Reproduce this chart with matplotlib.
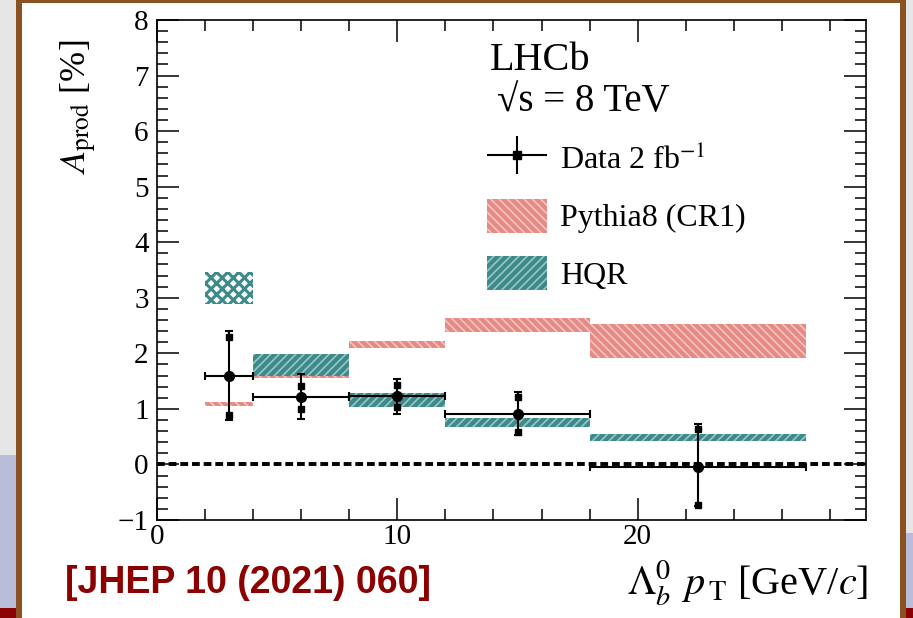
import numpy as np
import matplotlib
matplotlib.use('Agg')
import matplotlib.pyplot as plt
from matplotlib.patches import Rectangle
from matplotlib.ticker import MultipleLocator
from matplotlib.legend_handler import HandlerErrorbar

plt.rcParams['font.family'] = ['Liberation Serif', 'DejaVu Serif']
plt.rcParams['mathtext.fontset'] = 'stix'
plt.rcParams['hatch.linewidth'] = 1.2

# bins in Lambda_b pT [GeV/c]
bin_lo = [2, 4, 8, 12, 18]
bin_hi = [4, 8, 12, 18, 27]

# data points (A_prod in %)
x_pts = [3, 6, 10, 15, 22.5]
a_prod = [1.59, 1.21, 1.23, 0.90, -0.05]
err_tot_up = [0.81, 0.41, 0.31, 0.41, 0.77]
err_tot_dn = [0.79, 0.40, 0.32, 0.37, 0.70]
err_stat = [0.70, 0.21, 0.20, 0.31, 0.68]

# model bands (low / high edge)
pythia_lo = [1.06, 1.56, 2.10, 2.39, 1.91]
pythia_hi = [1.12, 1.62, 2.23, 2.63, 2.52]
hqr_lo = [2.88, 1.60, 1.04, 0.68, 0.43]
hqr_hi = [3.47, 1.98, 1.29, 0.83, 0.54]

pythia_col = '#e58a84'
pythia_hatch = '#f4c4c0'
hqr_col = '#3d8a8a'
hqr_hatch = '#9cc6c6'

W, H = 913, 618
fig = plt.figure(figsize=(W / 100, H / 100), dpi=100)
fig.patch.set_facecolor('white')

# slide frame around the plot
bg = fig.add_axes([0, 0, 1, 1], zorder=-5)
bg.set_xlim(0, W)
bg.set_ylim(H, 0)
bg.axis('off')
frame = [
    (0, 0, 16, 455, '#e6e6e6'),
    (0, 455, 16, 153, '#b9bdd9'),
    (0, 608, 16, 10, '#8b0000'),
    (906, 0, 7, 533, '#e6e6e6'),
    (906, 533, 7, 75, '#b9bdd9'),
    (906, 608, 7, 10, '#8b0000'),
    (16, 0, 6, H, '#8a5221'),
    (900, 0, 6, H, '#8a5221'),
    (16, 0, 890, 3, '#8a5221'),
]
for fx, fy, fw, fh, fc in frame:
    bg.add_patch(Rectangle((fx, fy), fw, fh, facecolor=fc, edgecolor='none'))

# main axes
l, r, t, b = 157, 866, 20, 520
ax = fig.add_axes([l / W, 1 - b / H, (r - l) / W, (b - t) / H])
ax.set_xlim(0, 29.5)
ax.set_ylim(-1, 8)

ax.axhline(0, color='black', lw=2.8, ls=(0, (2.0, 1.0)), zorder=2)

for i in range(len(bin_lo)):
    w = bin_hi[i] - bin_lo[i]
    ax.add_patch(Rectangle((bin_lo[i], pythia_lo[i]), w, pythia_hi[i] - pythia_lo[i],
                           facecolor=pythia_col, edgecolor=pythia_hatch, hatch='\\\\\\\\', lw=0, zorder=1))
    if i == 0:
        cross = Rectangle((bin_lo[i], hqr_lo[i]), w, hqr_hi[i] - hqr_lo[i],
                          facecolor='white', edgecolor=hqr_col, hatch='xxx', lw=0, zorder=1)
        if hasattr(cross, 'set_hatch_linewidth'):
            cross.set_hatch_linewidth(2.2)
        ax.add_patch(cross)
    else:
        ax.add_patch(Rectangle((bin_lo[i], hqr_lo[i]), w, hqr_hi[i] - hqr_lo[i],
                               facecolor=hqr_col, edgecolor=hqr_hatch, hatch='////', lw=0, zorder=1))

x_arr = np.array(x_pts)
xerr_lo = x_arr - np.array(bin_lo)
xerr_hi = np.array(bin_hi) - x_arr
ax.errorbar(x_pts, a_prod, yerr=[err_tot_dn, err_tot_up], xerr=[xerr_lo, xerr_hi],
            fmt='o', color='black', ms=7, lw=1.5, capsize=3, capthick=1.5, zorder=4)
y_arr = np.array(a_prod)
ax.plot(x_pts, y_arr + np.array(err_stat), 's', color='black', ms=4, zorder=4)
ax.plot(x_pts, y_arr - np.array(err_stat), 's', color='black', ms=4, zorder=4)

# ticks
ax.xaxis.set_major_locator(MultipleLocator(10))
ax.xaxis.set_minor_locator(MultipleLocator(2))
ax.yaxis.set_major_locator(MultipleLocator(1))
ax.yaxis.set_minor_locator(MultipleLocator(0.2))
ax.tick_params(which='both', direction='in', top=True, right=True, width=1.1, labelsize=21)
ax.tick_params(which='major', length=16)
ax.tick_params(which='minor', length=8)
ax.tick_params(axis='x', pad=3)
ax.tick_params(axis='y', pad=6)
for sp in ax.spines.values():
    sp.set_linewidth(1.2)

ax.text(-0.11, 0.96, r'$A_{\rm prod}$ [%]', transform=ax.transAxes, fontsize=26,
        rotation=90, ha='center', va='top')
ax.text(1.003, -0.15, r'$\mathit{\Lambda}_b^0\;\, p_{\,\rm T}$ [GeV/$c$]', transform=ax.transAxes,
        fontsize=29, ha='right', va='baseline')

ax.text(0.47, 0.918, 'LHCb', transform=ax.transAxes, fontsize=29, va='center', ha='left')
ax.text(0.48, 0.838, '\u221as = 8 TeV', transform=ax.transAxes, fontsize=28, va='center', ha='left')

# legend handles
h_data = ax.errorbar([np.nan], [np.nan], xerr=[1], yerr=[1], fmt='s', color='black', ms=6, lw=1.5)
h_py = Rectangle((0, 0), 1, 1, facecolor=pythia_col, edgecolor=pythia_hatch, hatch='\\\\\\\\', lw=0)
h_hqr = Rectangle((0, 0), 1, 1, facecolor=hqr_col, edgecolor=hqr_hatch, hatch='////', lw=0)
ax.legend([h_data, h_py, h_hqr], ['Data 2 fb$^{-1}$', 'Pythia8 (CR1)', 'HQR'],
          loc='upper left', bbox_to_anchor=(0.465, 0.757), frameon=False, fontsize=23,
          handlelength=1.9, handleheight=1.25, labelspacing=0.71, handletextpad=0.4,
          borderpad=0, borderaxespad=0,
          handler_map={type(h_data): HandlerErrorbar(xerr_size=0.95, yerr_size=0.6)})

fig.text(65 / W, 1 - 583 / H, '[JHEP 10 (2021) 060]', color='#8b0000', fontsize=27,
         fontweight='bold', family=['Liberation Sans Narrow', 'Liberation Sans', 'DejaVu Sans'],
         va='center', ha='left')

fig.savefig('out.png', dpi=100)
